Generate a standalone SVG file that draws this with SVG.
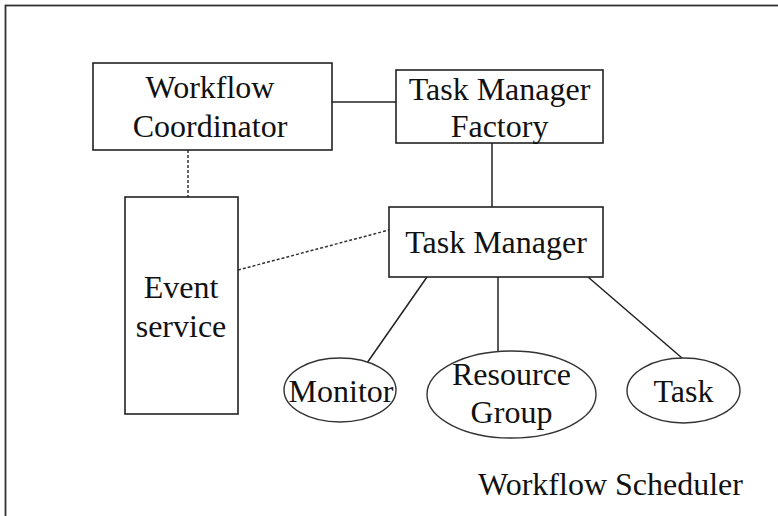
<svg xmlns="http://www.w3.org/2000/svg" width="778" height="516" viewBox="0 0 778 516">
  <style>
    .box { fill: #fff; stroke: #222; stroke-width: 1.6; }
    .oval { fill: #fff; stroke: #333; stroke-width: 1.4; }
    .link { stroke: #222; stroke-width: 1.5; fill: none; }
    .dash { stroke: #333; stroke-width: 1.5; stroke-dasharray: 3 2; fill: none; }
    text { font-family: "Liberation Serif", "Times New Roman", serif; font-size: 32px; fill: #111; text-anchor: middle; }
  </style>
  <rect width="778" height="516" fill="#fff"/>
  <!-- outer frame, running off the right and bottom edges -->
  <rect x="5.5" y="5.5" width="820" height="560" fill="none" stroke="#333" stroke-width="1.8"/>

  <g id="connectors">
    <line class="link" x1="332" y1="102" x2="396" y2="102"/>
    <line class="link" x1="492" y1="143" x2="492" y2="207"/>
    <line class="dash" x1="188" y1="150" x2="188" y2="197"/>
    <line class="dash" x1="238" y1="270" x2="389" y2="230"/>
    <line class="link" x1="427" y1="277" x2="367" y2="363"/>
    <line class="link" x1="498" y1="277" x2="498" y2="351"/>
    <line class="link" x1="588" y1="277" x2="682" y2="358"/>
  </g>

  <g id="workflow-coordinator">
    <rect class="box" x="93" y="63" width="239" height="87"/>
    <text x="210" y="98">Workflow</text>
    <text x="210" y="137">Coordinator</text>
  </g>

  <g id="task-manager-factory">
    <rect class="box" x="396" y="70" width="207" height="73"/>
    <text x="499.5" y="100">Task Manager</text>
    <text x="499.5" y="137">Factory</text>
  </g>

  <g id="event-service">
    <rect class="box" x="125" y="197" width="113" height="217"/>
    <text x="181" y="298">Event</text>
    <text x="181" y="337">service</text>
  </g>

  <g id="task-manager">
    <rect class="box" x="389" y="207" width="214" height="70"/>
    <text x="496" y="253">Task Manager</text>
  </g>

  <g id="monitor">
    <ellipse class="oval" cx="340" cy="390" rx="56" ry="32"/>
    <text x="341" y="402">Monitor</text>
  </g>

  <g id="resource-group">
    <ellipse class="oval" cx="511.5" cy="394.5" rx="84.5" ry="43.5"/>
    <text x="511.5" y="385">Resource</text>
    <text x="511.5" y="423">Group</text>
  </g>

  <g id="task">
    <ellipse class="oval" cx="683.5" cy="390.5" rx="56.5" ry="32.5"/>
    <text x="683.5" y="402">Task</text>
  </g>

  <text x="610.5" y="495">Workflow Scheduler</text>
</svg>
